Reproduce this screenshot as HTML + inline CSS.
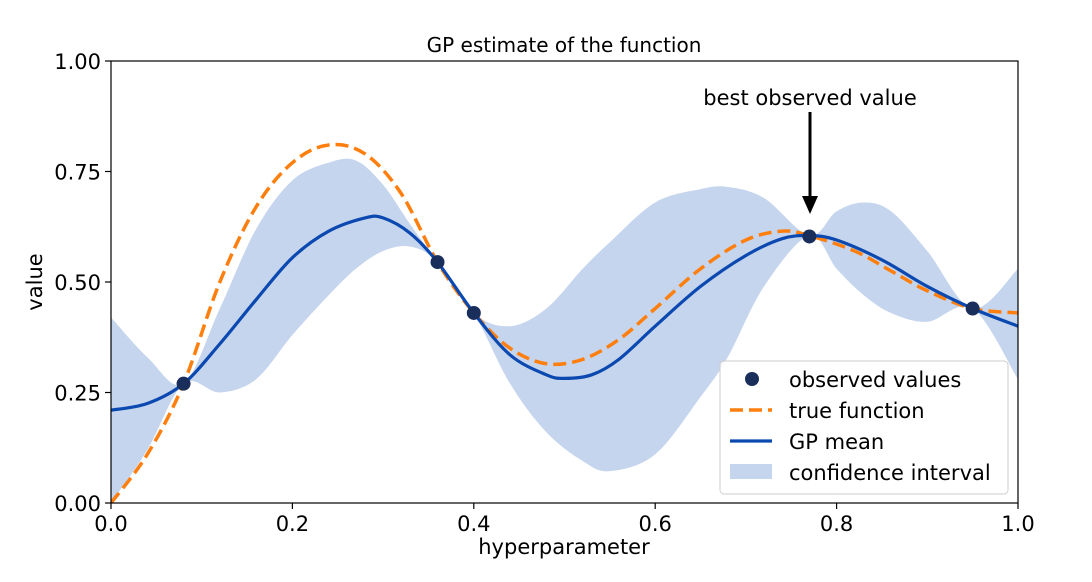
<!DOCTYPE html>
<html><head><meta charset="utf-8"><style>
html,body{margin:0;padding:0;background:#fff;}
body{position:relative;}
svg{display:block;font-family:"DejaVu Sans","Liberation Sans",sans-serif;}
</style></head><body>
<svg id="chart" width="1092" height="582">
<g id="plot"></g>
</svg>
<script>
const xsTrue=[0,0.04,0.08,0.12,0.16,0.2,0.24,0.28,0.32,0.36,0.40,0.44,0.48,0.52,0.56,0.6,0.65,0.7,0.74,0.77,0.82,0.86,0.9,0.95,1.0];
const trueVals=[0.0,0.11,0.27,0.50,0.67,0.77,0.81,0.79,0.70,0.545,0.43,0.35,0.315,0.325,0.37,0.44,0.53,0.595,0.615,0.605,0.57,0.525,0.48,0.44,0.43];
const xsMean=[0,0.04,0.08,0.12,0.16,0.2,0.24,0.28,0.3,0.33,0.36,0.40,0.44,0.48,0.5,0.53,0.56,0.6,0.65,0.7,0.74,0.77,0.8,0.85,0.9,0.95,1.0];
const meanVals=[0.21,0.225,0.27,0.36,0.46,0.555,0.615,0.645,0.645,0.61,0.545,0.43,0.335,0.29,0.282,0.29,0.325,0.40,0.49,0.56,0.598,0.605,0.595,0.55,0.49,0.44,0.40];
const xsBand=[0,0.04,0.08,0.12,0.16,0.2,0.24,0.27,0.3,0.33,0.36,0.40,0.44,0.48,0.52,0.55,0.6,0.65,0.68,0.72,0.77,0.8,0.83,0.86,0.9,0.95,1.0];
const upperVals=[0.42,0.33,0.27,0.44,0.62,0.73,0.77,0.775,0.72,0.63,0.545,0.43,0.40,0.44,0.53,0.59,0.68,0.71,0.715,0.69,0.605,0.66,0.68,0.66,0.57,0.44,0.53];
const lowerVals=[0.0,0.12,0.27,0.25,0.28,0.38,0.47,0.53,0.57,0.58,0.545,0.43,0.27,0.16,0.095,0.072,0.11,0.24,0.33,0.49,0.605,0.53,0.47,0.43,0.41,0.44,0.28];
const obsX=[0.08,0.36,0.40,0.77,0.95];
const obsY=[0.27,0.545,0.43,0.603,0.44];
const xTicks=[0,0.2,0.4,0.6,0.8,1.0];
const xTickLabels=["0.0","0.2","0.4","0.6","0.8","1.0"];
const yTicks=[0,0.25,0.5,0.75,1.0];
const yTickLabels=["0.00","0.25","0.50","0.75","1.00"];

const L=111,R=1018,T=61,B=503;
const sx=v=>L+v*(R-L);
const sy=v=>B-v*(B-T);
const NS="http://www.w3.org/2000/svg";
const g=document.getElementById('plot');
function mk(tag,attrs,parent){const e=document.createElementNS(NS,tag);for(const k in attrs)e.setAttribute(k,attrs[k]);(parent||g).appendChild(e);return e;}
function spline(xs,ys){
  let pts=xs.map((x,i)=>[sx(x),sy(ys[i])]);
  let d="";
  for(let i=0;i<pts.length-1;i++){
    const p0=pts[i-1]||pts[i],p1=pts[i],p2=pts[i+1],p3=pts[i+2]||p2;
    const c1=[p1[0]+(p2[0]-p0[0])/6,p1[1]+(p2[1]-p0[1])/6];
    const c2=[p2[0]-(p3[0]-p1[0])/6,p2[1]-(p3[1]-p1[1])/6];
    if(i===0)d+="M"+p1[0]+","+p1[1];
    d+=" C"+c1[0]+","+c1[1]+" "+c2[0]+","+c2[1]+" "+p2[0]+","+p2[1];
  }
  return d;
}
const cp=mk('clipPath',{id:'clip'});
mk('rect',{x:L,y:T,width:R-L,height:B-T},cp);
const cg=mk('g',{'clip-path':'url(#clip)'});
const up=spline(xsBand,upperVals);
const lo=spline(xsBand.slice().reverse(),lowerVals.slice().reverse()).replace(/^M/,' L');
const band=mk('path',{d:up+lo+" Z",fill:'#c6d5ee',stroke:'none'},cg);


const tl=mk('path',{d:spline(xsTrue,trueVals),fill:'none',stroke:'#ff7f0e','stroke-width':3.5,'stroke-dasharray':'13,6'},cg);


const ml=mk('path',{d:spline(xsMean,meanVals),fill:'none',stroke:'#0b49b0','stroke-width':3.2},cg);


obsX.forEach((x,i)=>{
  const c=mk('circle',{cx:sx(x),cy:sy(obsY[i]),r:7,fill:'#1a2e5c'});
  
  
});
const fr=mk('rect',{x:L,y:T,width:R-L,height:B-T,fill:'none',stroke:'#000','stroke-width':1.2});


xTicks.forEach((t,i)=>{
  mk('line',{x1:sx(t),x2:sx(t),y1:B,y2:B+6,stroke:'#000','stroke-width':1.2});
  const tx=mk('text',{x:sx(t),y:B+28,'text-anchor':'middle','font-size':21});tx.textContent=xTickLabels[i];
  
  
});
yTicks.forEach((t,i)=>{
  mk('line',{x1:L-6,x2:L,y1:sy(t),y2:sy(t),stroke:'#000','stroke-width':1.2});
  const tx=mk('text',{x:L-10,y:sy(t)+8,'text-anchor':'end','font-size':21});tx.textContent=yTickLabels[i];
  
  
});
</script>
<svg width="1092" height="582" style="position:absolute;left:0;top:0">
<text x="564" y="52" text-anchor="middle" font-size="20">GP estimate of the function</text>
<text x="564" y="554" text-anchor="middle" font-size="21">hyperparameter</text>
<text x="42" y="282" text-anchor="middle" font-size="21" transform="rotate(-90 42 282)">value</text>
<text x="810" y="105" text-anchor="middle" font-size="21">best observed value</text>
<g>
<line x1="810" y1="112" x2="810" y2="198" stroke="#000" stroke-width="3"/>
<polygon points="802,196 818,196 810,214" fill="#000"/>
</g>
<g>
<rect x="720" y="361" width="288" height="133" rx="4" fill="#fff" fill-opacity="0.85" stroke="#ccc"/>
<circle cx="752" cy="379" r="7" fill="#1a2e5c"/>
<text x="789" y="387" font-size="21">observed values</text>
<line x1="730" y1="410" x2="772" y2="410" stroke="#ff7f0e" stroke-width="3.5" stroke-dasharray="13,6"/>
<text x="789" y="418" font-size="21">true function</text>
<line x1="730" y1="441" x2="772" y2="441" stroke="#0b49b0" stroke-width="3.2"/>
<text x="789" y="449" font-size="21">GP mean</text>
<rect x="730" y="464" width="42" height="15" fill="#c6d5ee"/>
<text x="789" y="480" font-size="21">confidence interval</text>
</g>
</svg>
</body></html>
